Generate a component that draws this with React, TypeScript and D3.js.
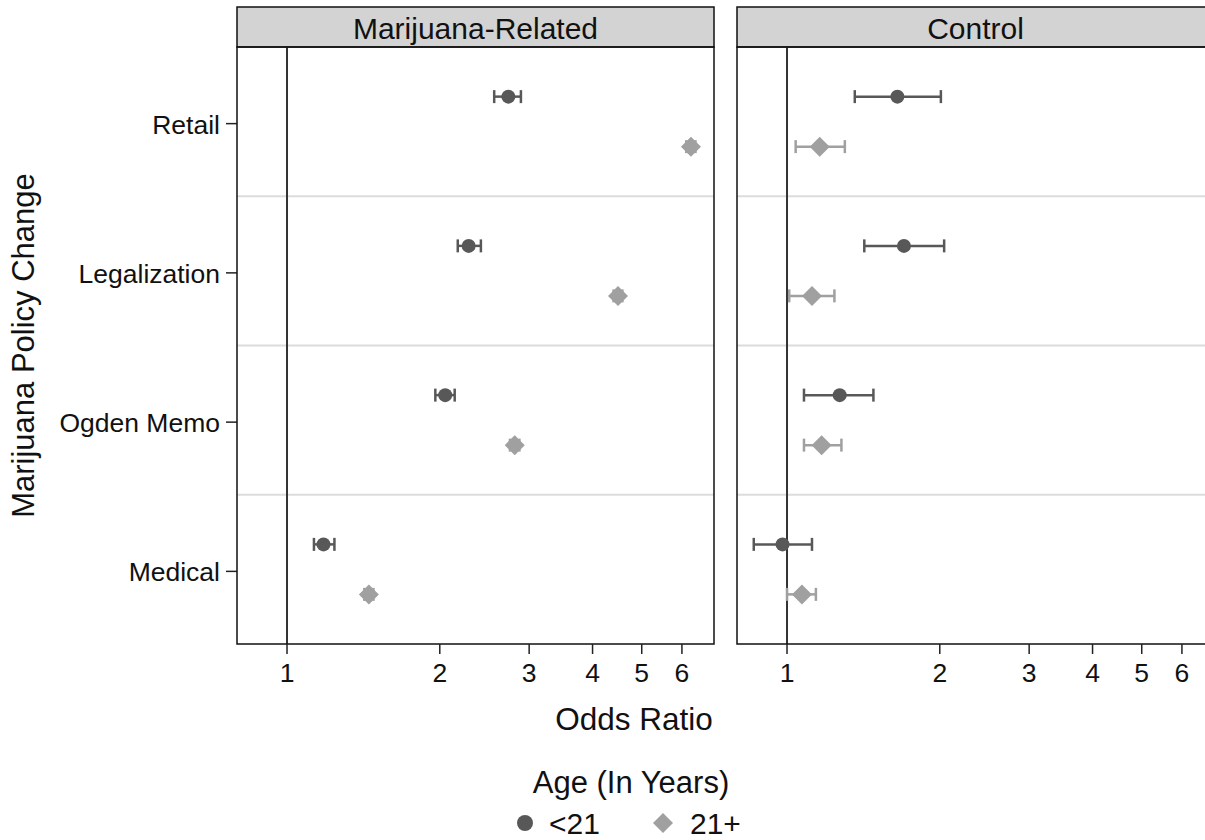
import React from "react";
import * as d3 from "d3";

const categories = ["Retail", "Legalization", "Ogden Memo", "Medical"];
const panelTitles = ["Marijuana-Related", "Control"];
const xTicks = [1, 2, 3, 4, 5, 6];
const groupLabels = ["<21", "21+"];

// Marijuana-Related panel
const mjUnder21OR = [2.73, 2.28, 2.05, 1.18];
const mjUnder21Lo = [2.56, 2.17, 1.96, 1.13];
const mjUnder21Hi = [2.89, 2.41, 2.14, 1.24];
const mjOver21OR = [6.25, 4.49, 2.81, 1.45];
const mjOver21Lo = [6.12, 4.4, 2.75, 1.42];
const mjOver21Hi = [6.38, 4.58, 2.87, 1.48];
// Control panel
const ctlUnder21OR = [1.65, 1.7, 1.27, 0.98];
const ctlUnder21Lo = [1.36, 1.42, 1.08, 0.86];
const ctlUnder21Hi = [2.01, 2.04, 1.48, 1.12];
const ctlOver21OR = [1.16, 1.12, 1.17, 1.07];
const ctlOver21Lo = [1.04, 1.01, 1.08, 1.0];
const ctlOver21Hi = [1.3, 1.24, 1.28, 1.14];

const W = 1205;
const H = 840;
const FONT = "'Liberation Sans', Arial, Helvetica, sans-serif";
const DARK = "#585858";
const LIGHT = "#a0a0a0";

const plotTop = 47;
const plotBottom = 644;
const stripTop = 7;
const panels = [
  { x0: 237, x1: 714 },
  { x0: 737, x1: 1214 },
];
const xDomain: [number, number] = [0.797, 6.94];

type Row = { or: number; lo: number; hi: number };
const zip = (a: number[], b: number[], c: number[]): Row[] =>
  a.map((v, i) => ({ or: v, lo: b[i], hi: c[i] }));

const panelData = [
  [zip(mjUnder21OR, mjUnder21Lo, mjUnder21Hi), zip(mjOver21OR, mjOver21Lo, mjOver21Hi)],
  [zip(ctlUnder21OR, ctlUnder21Lo, ctlUnder21Hi), zip(ctlOver21OR, ctlOver21Lo, ctlOver21Hi)],
];

const yBand = d3.scaleBand<string>().domain(categories).range([plotTop, plotBottom]).padding(0);
const groupOffset = [-25, 25];
const groupColor = [DARK, LIGHT];

function diamondPath(cx: number, cy: number, r: number) {
  return `M${cx},${cy - r}L${cx + r},${cy}L${cx},${cy + r}L${cx - r},${cy}Z`;
}

export default function App() {
  const bw = yBand.bandwidth();
  return (
    <svg
      width={W}
      height={H}
      style={{ position: "absolute", left: 0, top: 0, background: "#fff" }}
      fontFamily={FONT}
    >
      {/* y axis title */}
      <text
        transform={`translate(34,${(plotTop + plotBottom) / 2}) rotate(-90)`}
        textAnchor="middle"
        fontSize={31}
        fill="#111"
      >
        Marijuana Policy Change
      </text>
      {/* category labels & ticks */}
      {categories.map((c) => {
        const y = (yBand(c) as number) + bw / 2 + 2;
        return (
          <g key={c}>
            <line x1={226} x2={237} y1={y} y2={y} stroke="#222" strokeWidth={1.5} />
            <text x={220} y={y + 1} textAnchor="end" dominantBaseline="central" fontSize={26.5} fill="#111">
              {c}
            </text>
          </g>
        );
      })}
      {panels.map((p, pi) => {
        const x = d3.scaleLog().domain(xDomain).range([p.x0, p.x1]);
        return (
          <g key={pi}>
            {/* strip */}
            <rect
              x={p.x0}
              y={stripTop}
              width={p.x1 - p.x0}
              height={plotTop - stripTop}
              fill="#d3d3d3"
              stroke="#111"
              strokeWidth={1.5}
            />
            <text
              x={(p.x0 + p.x1) / 2}
              y={(stripTop + plotTop) / 2 + 1}
              textAnchor="middle"
              dominantBaseline="central"
              fontSize={30}
              fill="#111"
            >
              {panelTitles[pi]}
            </text>
            {/* separators */}
            {categories.slice(1).map((c) => (
              <line
                key={c}
                x1={p.x0}
                x2={p.x1}
                y1={yBand(c)}
                y2={yBand(c)}
                stroke="#dcdcdc"
                strokeWidth={2}
              />
            ))}
            {/* reference line */}
            <line x1={x(1)} x2={x(1)} y1={plotTop} y2={plotBottom} stroke="#333" strokeWidth={2} />
            {/* error bars and markers */}
            {panelData[pi].map((rows, gi) =>
              rows.map((r, ci) => {
                const cy = (yBand(categories[ci]) as number) + bw / 2 + groupOffset[gi];
                const col = groupColor[gi];
                const xl = x(r.lo);
                const xh = x(r.hi);
                const xm = x(r.or);
                return (
                  <g key={`${gi}-${ci}`}>
                    <line x1={xl} x2={xh} y1={cy} y2={cy} stroke={col} strokeWidth={2.5} />
                    <line x1={xl} x2={xl} y1={cy - 6.5} y2={cy + 6.5} stroke={col} strokeWidth={2.5} />
                    <line x1={xh} x2={xh} y1={cy - 6.5} y2={cy + 6.5} stroke={col} strokeWidth={2.5} />
                    {gi === 0 ? (
                      <circle cx={xm} cy={cy} r={7} fill={col} />
                    ) : (
                      <path d={diamondPath(xm, cy, 10)} fill={col} />
                    )}
                  </g>
                );
              })
            )}
            {/* border */}
            <rect
              x={p.x0}
              y={plotTop}
              width={p.x1 - p.x0}
              height={plotBottom - plotTop}
              fill="none"
              stroke="#111"
              strokeWidth={1.5}
            />
            {/* x ticks */}
            {xTicks.map((t) => (
              <g key={t}>
                <line x1={x(t)} x2={x(t)} y1={plotBottom} y2={plotBottom + 10} stroke="#222" strokeWidth={1.5} />
                <text x={x(t)} y={plotBottom + 38} textAnchor="middle" fontSize={26.5} fill="#111">
                  {t}
                </text>
              </g>
            ))}
          </g>
        );
      })}
      {/* x axis title */}
      <text x={634} y={730} textAnchor="middle" fontSize={31.5} fill="#111">
        Odds Ratio
      </text>
      {/* legend */}
      <text x={631} y={793} textAnchor="middle" fontSize={31} fill="#111">
        Age (In Years)
      </text>
      <circle cx={525} cy={823} r={8} fill={DARK} />
      <text x={549} y={834} fontSize={30} fill="#111">
        {groupLabels[0]}
      </text>
      <path d={diamondPath(663, 823, 10)} fill={LIGHT} />
      <text x={690} y={834} fontSize={30} fill="#111">
        {groupLabels[1]}
      </text>
    </svg>
  );
}
